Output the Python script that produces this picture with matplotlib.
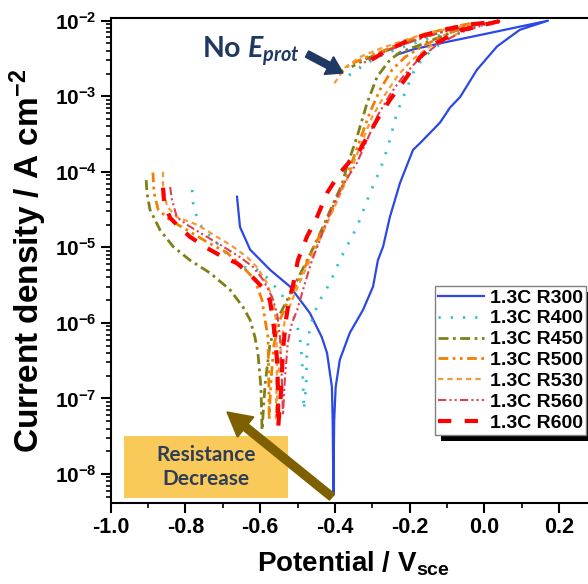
import numpy as np
import matplotlib
matplotlib.use("Agg")
import matplotlib.pyplot as plt
import matplotlib.ticker as mticker
from matplotlib.patches import Rectangle, FancyArrow
from matplotlib.transforms import IdentityTransform

plt.rcParams['font.family'] = 'Liberation Sans'
plt.rcParams['font.weight'] = 'bold'
plt.rcParams['axes.labelweight'] = 'bold'
plt.rcParams['axes.unicode_minus'] = False
plt.rcParams['mathtext.fontset'] = 'custom'
plt.rcParams['mathtext.rm'] = 'Liberation Sans:bold'
plt.rcParams['mathtext.bf'] = 'Liberation Sans:bold'
plt.rcParams['mathtext.it'] = 'Lato:italic:bold'
plt.rcParams['mathtext.default'] = 'regular'

# potential (V vs SCE) and log10 current density (A cm-2)
# scan order: cathodic start -> Ecorr -> anodic -> vertex -> reverse end
R300_E = [-0.662, -0.654, -0.627, -0.573, -0.520, -0.467, -0.435, -0.421, -0.408, -0.406, -0.404,
          -0.402, -0.398, -0.387, -0.360, -0.325, -0.298, -0.285, -0.271, -0.253, -0.226, -0.191,
          -0.172, -0.119, -0.092, -0.065, -0.020, 0.034, 0.095, 0.170,
          -0.012, -0.100, -0.191, -0.234]
R300_logi = [-4.33, -4.73, -5.03, -5.30, -5.52, -5.87, -6.19, -6.40, -6.85, -7.30, -8.28,
             -7.30, -6.85, -6.49, -6.13, -5.83, -5.52, -5.17, -4.99, -4.60, -4.15, -3.71,
             -3.62, -3.35, -3.15, -3.01, -2.65, -2.34, -2.12, -2.00,
             -2.19, -2.28, -2.38, -2.45]

R400_E = [-0.782, -0.780, -0.774, -0.753, -0.729, -0.707, -0.681, -0.646, -0.606, -0.582, -0.560,
          -0.542, -0.521, -0.501, -0.493, -0.488, -0.485, -0.483,
          -0.477, -0.475, -0.467, -0.445, -0.413, -0.387, -0.341, -0.306, -0.279, -0.258, -0.234,
          -0.212, -0.191, -0.164, -0.127, -0.073, 0.015,
          -0.065, -0.146, -0.226, -0.271, -0.314, -0.368]
R400_logi = [-4.24, -4.40, -4.54, -4.77, -4.87, -4.99, -5.13, -5.26, -5.30, -5.40, -5.52,
             -5.63, -5.79, -6.03, -6.23, -6.49, -6.85, -7.15,
             -6.82, -6.40, -6.05, -5.74, -5.47, -5.17, -4.73, -4.28, -3.97, -3.67, -3.22,
             -2.95, -2.69, -2.49, -2.34, -2.16, -2.03,
             -2.12, -2.23, -2.36, -2.45, -2.56, -2.74]

R450_E = [-0.905, -0.903, -0.895, -0.868, -0.833, -0.788, -0.734, -0.681, -0.646, -0.627, -0.614,
          -0.606, -0.598, -0.595,
          -0.587, -0.574, -0.555, -0.528, -0.501, -0.467, -0.432, -0.400, -0.381, -0.368, -0.341,
          -0.314, -0.287, -0.253, -0.226, -0.172, -0.105, -0.052,
          -0.105, -0.172, -0.226, -0.271, -0.314, -0.355]
R450_logi = [-4.11, -4.28, -4.50, -4.77, -4.99, -5.17, -5.34, -5.56, -5.79, -5.96, -6.19,
             -6.40, -6.85, -7.42,
             -6.82, -6.29, -5.96, -5.70, -5.43, -5.10, -4.73, -4.37, -4.17, -3.93, -3.54,
             -3.09, -2.74, -2.52, -2.42, -2.32, -2.19, -2.08,
             -2.13, -2.23, -2.33, -2.41, -2.50, -2.61]

R500_E = [-0.887, -0.884, -0.873, -0.841, -0.796, -0.742, -0.689, -0.646, -0.614, -0.595, -0.587,
          -0.579, -0.577, -0.576,
          -0.571, -0.563, -0.547, -0.525, -0.493, -0.459, -0.427, -0.394, -0.373, -0.360, -0.333,
          -0.306, -0.279, -0.247, -0.212, -0.159, -0.092, -0.030,
          -0.092, -0.172, -0.226, -0.271, -0.314, -0.360, -0.386]
R500_logi = [-4.01, -4.28, -4.50, -4.64, -4.77, -4.93, -5.07, -5.26, -5.43, -5.70, -5.96,
             -6.19, -6.75, -7.28,
             -6.75, -6.29, -5.96, -5.70, -5.40, -5.03, -4.70, -4.37, -4.11, -3.95, -3.58,
             -3.21, -2.91, -2.65, -2.48, -2.32, -2.16, -2.03,
             -2.09, -2.20, -2.30, -2.40, -2.48, -2.58, -2.69]

R530_E = [-0.860, -0.860, -0.849, -0.823, -0.769, -0.716, -0.673, -0.635, -0.609, -0.582, -0.566,
          -0.558, -0.555, -0.558,
          -0.552, -0.544, -0.534, -0.515, -0.485, -0.451, -0.419, -0.386, -0.360, -0.333, -0.301,
          -0.266, -0.231, -0.194, -0.146, -0.079, -0.025,
          -0.079, -0.159, -0.226, -0.279, -0.333, -0.373, -0.407]
R530_logi = [-4.00, -4.20, -4.46, -4.60, -4.70, -4.86, -4.99, -5.13, -5.26, -5.47, -5.70,
             -5.96, -6.49, -7.26,
             -6.75, -6.29, -5.96, -5.70, -5.36, -5.01, -4.66, -4.30, -4.01, -3.67, -3.28,
             -2.98, -2.72, -2.52, -2.34, -2.19, -2.04,
             -2.09, -2.17, -2.28, -2.37, -2.48, -2.62, -2.87]

R560_E = [-0.841, -0.836, -0.823, -0.796, -0.753, -0.699, -0.654, -0.619, -0.592, -0.568, -0.555,
          -0.547, -0.542, -0.539,
          -0.534, -0.526, -0.515, -0.501, -0.480, -0.461, -0.440, -0.413, -0.378, -0.341, -0.314,
          -0.285, -0.253, -0.218, -0.178, -0.127, -0.060, 0.028,
          -0.039, -0.119, -0.199, -0.266, -0.328]
R560_logi = [-4.20, -4.37, -4.60, -4.70, -4.83, -4.99, -5.13, -5.26, -5.43, -5.66, -5.87,
             -6.19, -6.75, -7.22,
             -6.75, -6.26, -6.00, -5.83, -5.47, -5.17, -4.90, -4.54, -4.17, -3.88, -3.58,
             -3.25, -2.98, -2.74, -2.52, -2.32, -2.15, -2.01,
             -2.07, -2.16, -2.28, -2.41, -2.57]

R600_E = [-0.860, -0.857, -0.841, -0.823, -0.788, -0.742, -0.699, -0.662, -0.627, -0.592, -0.574,
          -0.566, -0.560, -0.555, -0.552, -0.552,
          -0.544, -0.539, -0.531, -0.523, -0.512, -0.499, -0.475, -0.448, -0.421, -0.386, -0.333,
          -0.287, -0.253, -0.207, -0.172, -0.127, -0.065, 0.037,
          -0.039, -0.119, -0.199, -0.266, -0.333]
R600_logi = [-4.21, -4.41, -4.61, -4.70, -4.86, -5.01, -5.13, -5.21, -5.36, -5.54, -5.70,
             -5.96, -6.19, -6.49, -6.93, -7.39,
             -6.89, -6.36, -5.96, -5.70, -5.50, -5.17, -4.86, -4.60, -4.28, -4.01, -3.71,
             -3.31, -3.05, -2.74, -2.48, -2.29, -2.13, -2.01,
             -2.05, -2.13, -2.25, -2.41, -2.61]

labels = ['1.3C R300', '1.3C R400', '1.3C R450', '1.3C R500', '1.3C R530', '1.3C R560', '1.3C R600']
series = [(R300_E, R300_logi), (R400_E, R400_logi), (R450_E, R450_logi), (R500_E, R500_logi),
          (R530_E, R530_logi), (R560_E, R560_logi), (R600_E, R600_logi)]
colors = ['#2B48E6', '#2EC4C4', '#808019', '#F08000', '#F59A38', '#E0404E', '#FF0000']
widths = [1.6, 2.0, 2.0, 2.0, 1.6, 1.5, 3.0]
dashes = [None, (0.8, 3.6), (3.6, 1.6, 1, 1.6), (3.5, 1.6, 1, 1.6, 1, 1.6),
          (2.4, 1.8), (4.0, 1.5, 1, 1.5, 1, 1.5), (3.2, 3.2)]

W, H = 588, 584
fig = plt.figure(figsize=(W / 100, H / 100), dpi=100)
# axes runs a little past the right edge of the picture (cropped like the original)
ax = fig.add_axes([110.7 / W, 81 / H, 485.8 / W, 485 / H])

for (E, logi), lab, c, lw, d in zip(series, labels, colors, widths, dashes):
    line, = ax.plot(E, 10 ** np.array(logi), color=c, lw=lw, label=lab)
    if d is not None:
        line.set_dashes(d)

ax.set_yscale('log')
ax.set_xlim(-1.0, 0.3)
ax.set_ylim(4.13e-9, 1.086e-2)
ax.xaxis.set_major_locator(mticker.MultipleLocator(0.2))
ax.xaxis.set_minor_locator(mticker.MultipleLocator(0.1))
ax.xaxis.set_major_formatter(mticker.FormatStrFormatter('%.1f'))
ax.yaxis.set_major_locator(mticker.LogLocator(base=10, numticks=20))
ax.yaxis.set_minor_locator(mticker.LogLocator(base=10, subs=np.arange(2, 10), numticks=20))
ax.yaxis.set_minor_formatter(mticker.NullFormatter())
ax.tick_params(which='major', direction='out', length=7, width=1.5, labelsize=15.5, pad=3)
ax.tick_params(axis='y', which='major', labelsize=15)
ax.tick_params(which='minor', direction='out', length=3.5, width=1.2)
for s in ax.spines.values():
    s.set_linewidth(1.5)

ax.set_xlabel('Potential / V$_{sce}$', fontsize=20, labelpad=8)
ax.set_ylabel('Current density / A cm$^{-2}$', fontsize=24, labelpad=4)

leg = ax.legend(loc='upper left', bbox_to_anchor=(435 / W, 1 - 286 / H),
                bbox_transform=fig.transFigure, borderaxespad=0, fontsize=14,
                frameon=True, fancybox=False, framealpha=1, edgecolor='#808080',
                handlelength=2.35, handletextpad=0.35, labelspacing=0.17, borderpad=0.15)
leg.get_frame().set_linewidth(1.0)
leg.set_zorder(8)

# annotation box and arrows (figure pixels)
ax.add_patch(Rectangle((124 / W, 1 - 498 / H), 164 / W, 62 / H, transform=fig.transFigure,
                       facecolor='#F9C95A', edgecolor='none', zorder=5, clip_on=False))
fig.text(206 / W, 1 - 467 / H, 'Resistance\nDecrease', ha='center', va='center',
         fontsize=15, fontfamily='Lato', fontweight='bold', color='#2F3E56', linespacing=1.3)

fig.add_artist(FancyArrow(332, H - 497, 227 - 332, 497 - 412, width=8, head_width=26, head_length=24,
                          length_includes_head=True, color='#7F6000', transform=IdentityTransform()))
fig.add_artist(FancyArrow(307, H - 54, 343 - 307, 54 - 73, width=7, head_width=20, head_length=16,
                          length_includes_head=True, color='#1F3864', transform=IdentityTransform()))
fig.text(202 / W, 1 - 57 / H, r'No $\mathit{E}_{\mathit{prot}}$', fontsize=20.5, fontfamily='Lato',
         fontweight='bold', color='#1F3864', ha='left', va='baseline')

# black shadow under legend (inside axes, just below the legend)
fig.canvas.draw()
bb = leg.get_window_extent()
shadow = Rectangle((bb.x0 + 6, bb.y0 - 6), bb.width, bb.height, facecolor='black',
                   edgecolor='none', transform=IdentityTransform(), zorder=7, clip_on=False)
ax.add_artist(shadow)

fig.savefig('out.png', dpi=100)
